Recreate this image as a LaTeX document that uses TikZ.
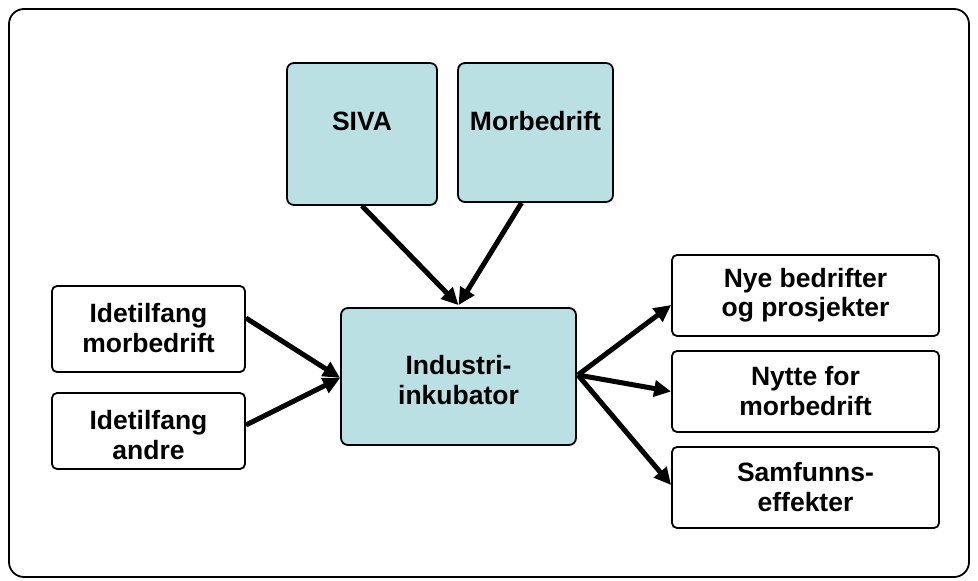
\documentclass[tikz,border=0pt]{standalone}
\usepackage{fontspec}
\setmainfont{Liberation Sans}
\usetikzlibrary{arrows.meta}
\definecolor{teal1}{RGB}{187,224,227}
\tikzset{
  box/.style={draw=black, line width=1.8pt, rounded corners=7pt, fill=teal1, inner sep=0pt},
  wbox/.style={draw=black, line width=1.8pt, rounded corners=5pt, fill=white, inner sep=0pt},
  lbl/.style={font=\fontsize{26.5}{29.5}\selectfont\bfseries, align=center, inner sep=0pt},
  arr/.style={line width=5pt, -{Triangle[length=17pt,width=16pt]}}
}
\begin{document}
\begin{tikzpicture}[x=1pt,y=-1pt]
\useasboundingbox (0,0) rectangle (978,581);
\draw[line width=1.8pt, rounded corners=15pt] (9,9) rectangle (969,577);
% boxes
\node[box, minimum width=150pt, minimum height=142pt] (siva) at (362,134) {};
\node[box, minimum width=155pt, minimum height=139pt] (mor) at (535.5,132.5) {};
\node[box, minimum width=235pt, minimum height=137pt] (inc) at (458.5,376.5) {};
\node[wbox, minimum width=193pt, minimum height=86pt] (idm) at (148.5,329) {};
\node[wbox, minimum width=193pt, minimum height=76pt] (ida) at (148.5,431) {};
\node[wbox, minimum width=267pt, minimum height=81pt] (nye) at (805.5,295.5) {};
\node[wbox, minimum width=267pt, minimum height=81pt] (nyt) at (805.5,391.5) {};
\node[wbox, minimum width=267pt, minimum height=81pt] (sam) at (805.5,487.5) {};
% texts
\node[lbl] (tsiva) at (362,121) {SIVA};
\node[lbl] (tmor) at (535.5,121) {Morbedrift};
\node[lbl] (tinc) at (458.5,380) {Industri-\\inkubator};
\node[lbl] (tidm) at (148.5,328) {Idetilfang\\morbedrift};
\node[lbl] (tida) at (148.5,435) {Idetilfang\\andre};
\node[lbl] (tnye) at (805.5,295) {Nye bedrifter\\og prosjekter};
\node[lbl] (tnyt) at (805.5,391) {Nytte for\\morbedrift};
\node[lbl] (tsam) at (805.5,487) {Samfunns-\\effekter};
% arrows
\draw[arr] (siva.south) -- ([yshift=2pt]inc.north);
\draw[arr] ([xshift=-14pt]mor.south) -- ([yshift=2pt]inc.north);
\draw[arr] ([yshift=11pt]idm.east) -- ([yshift=-1.5pt]inc.west);
\draw[arr] ([yshift=6pt]ida.east) -- ([yshift=-1.5pt]inc.west);
\draw[arr] ([xshift=1pt,yshift=1.5pt]inc.east) -- ([yshift=-9.5pt]nye.west);
\draw[arr] ([xshift=1pt,yshift=1.5pt]inc.east) -- (nyt.west);
\draw[arr] ([xshift=1pt,yshift=1.5pt]inc.east) -- ([yshift=2.5pt]sam.west);
\end{tikzpicture}
\end{document}
